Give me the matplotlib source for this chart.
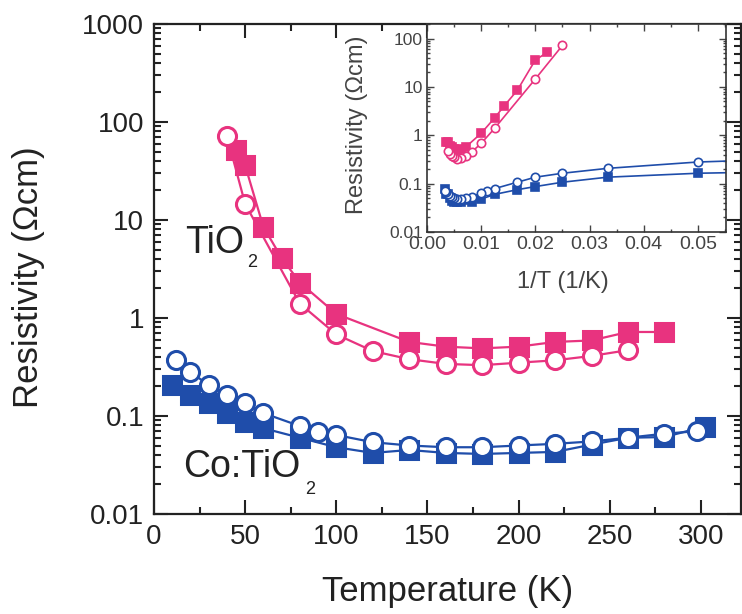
import numpy as np
import matplotlib
matplotlib.use("Agg")
from matplotlib import pyplot as plt
from matplotlib.ticker import LogLocator, MultipleLocator, NullFormatter

plt.rcParams['font.family'] = ['Liberation Sans', 'DejaVu Sans']

# TiO2 (pink)
tio2_sq_T = [45, 50, 60, 70, 80, 100, 140, 160, 180, 200, 220, 240, 260, 280]
tio2_sq_R = [52, 36, 8.5, 4.1, 2.3, 1.1, 0.57, 0.51, 0.49, 0.51, 0.57, 0.59, 0.72, 0.72]
tio2_ci_T = [40, 50, 80, 100, 120, 140, 160, 180, 200, 220, 240, 260]
tio2_ci_R = [72, 14.6, 1.4, 0.68, 0.46, 0.38, 0.34, 0.33, 0.35, 0.37, 0.41, 0.47]

# Co:TiO2 (blue)
co_sq_T = [10, 20, 30, 40, 50, 60, 80, 100, 120, 140, 160, 180, 200, 220, 240, 260, 280, 302]
co_sq_R = [0.207, 0.164, 0.136, 0.107, 0.087, 0.075, 0.060, 0.048, 0.042, 0.045, 0.042,
           0.041, 0.042, 0.043, 0.051, 0.060, 0.061, 0.078]
co_ci_T = [12, 20, 30, 40, 50, 60, 80, 90, 100, 120, 140, 160, 180, 200, 220, 240, 260, 280, 298]
co_ci_R = [0.37, 0.28, 0.207, 0.164, 0.136, 0.107, 0.079, 0.069, 0.064, 0.054, 0.050, 0.048,
           0.048, 0.050, 0.052, 0.055, 0.060, 0.066, 0.070]

pink = '#E8337F'
blue = '#1F4DAA'
ink = '#222222'

fig = plt.figure(figsize=(7.42, 6.14), dpi=100)
ax = fig.add_axes([154/742, 1 - 514/614, 587/742, 490/614])

ax.plot(tio2_sq_T, tio2_sq_R, '-s', color=pink, ms=13, mew=2.2, lw=1.6, mfc=pink)
ax.plot(tio2_ci_T, tio2_ci_R, '-o', color=pink, ms=13, mew=2.2, lw=1.6, mfc='white')
ax.plot(co_sq_T, co_sq_R, '-s', color=blue, ms=13, mew=2.2, lw=1.6, mfc=blue)
ax.plot(co_ci_T, co_ci_R, '-o', color=blue, ms=13, mew=2.2, lw=1.6, mfc='white')

ax.set_yscale('log')
ax.set_xlim(0, 322)
ax.set_ylim(0.01, 1000)
ax.set_yticks([0.01, 0.1, 1, 10, 100, 1000])
ax.set_yticklabels(['0.01', '0.1', '1', '10', '100', '1000'])
ax.yaxis.set_minor_locator(LogLocator(base=10, subs=np.arange(2, 10)))
ax.yaxis.set_minor_formatter(NullFormatter())
ax.set_xticks([0, 50, 100, 150, 200, 250, 300])
ax.xaxis.set_minor_locator(MultipleLocator(25))
ax.tick_params(which='both', direction='in', top=True, right=True, width=1.5, labelsize=20, colors=ink)
ax.tick_params(which='major', length=10)
ax.tick_params(axis='x', which='major', pad=7)
ax.tick_params(axis='y', which='major', pad=7)
ax.tick_params(which='minor', length=5)
for s in ax.spines.values():
    s.set_linewidth(1.6)
    s.set_color(ink)
ax.set_xlabel('Temperature (K)', fontsize=25, color=ink)
ax.set_ylabel('Resistivity (Ωcm)', fontsize=25, color=ink)
ax.xaxis.label.set_va('baseline')
ax.xaxis.set_label_coords(0.50, -0.178)
ax.yaxis.set_label_coords(-0.186, 0.484)

# sample names, subscript sits below the baseline as in the figure
ax.text(0.0528, 0.533, 'TiO', transform=ax.transAxes, fontsize=27, color=ink, va='baseline')
ax.text(0.158, 0.504, '2', transform=ax.transAxes, fontsize=13, color=ink, va='baseline')
ax.text(0.0494, 0.0755, 'Co:TiO', transform=ax.transAxes, fontsize=27, color=ink, va='baseline')
ax.text(0.257, 0.041, '2', transform=ax.transAxes, fontsize=13, color=ink, va='baseline')

# inset: same data vs 1/T
ins = fig.add_axes([427/742, 1 - 232/614, 299/742, 208/614])
ins.plot(1/np.array(tio2_sq_T), tio2_sq_R, '-s', color=pink, ms=6, mew=1.2, lw=1.2, mfc=pink)
ins.plot(1/np.array(tio2_ci_T), tio2_ci_R, '-o', color=pink, ms=6, mew=1.2, lw=1.2, mfc='white')
ins.plot(1/np.array(co_sq_T), co_sq_R, '-s', color=blue, ms=6, mew=1.2, lw=1.2, mfc=blue)
ins.plot(1/np.array(co_ci_T), co_ci_R, '-o', color=blue, ms=6, mew=1.2, lw=1.2, mfc='white')
ins.set_yscale('log')
ins.set_xlim(0, 0.0552)
ins.set_ylim(0.01, 200)
ins.set_yticks([0.01, 0.1, 1, 10, 100])
ins.set_yticklabels(['0.01', '0.1', '1', '10', '100'])
ins.yaxis.set_minor_locator(LogLocator(base=10, subs=np.arange(2, 10)))
ins.yaxis.set_minor_formatter(NullFormatter())
ins.set_xticks([0, 0.01, 0.02, 0.03, 0.04, 0.05])
ins.set_xticklabels(['0.00', '0.01', '0.02', '0.03', '0.04', '0.05'])
ins.xaxis.set_minor_locator(MultipleLocator(0.005))
ins.tick_params(which='both', direction='in', top=True, right=True, width=1, colors='#444444')
ins.tick_params(axis='x', labelsize=14)
ins.tick_params(axis='y', labelsize=12.5)
ins.tick_params(which='major', length=5, pad=3)
ins.tick_params(which='minor', length=2.5)
for s in ins.spines.values():
    s.set_linewidth(1.2)
    s.set_color('#333333')
ins.set_xlabel('1/T (1/K)', fontsize=17, color='#444444')
ins.set_ylabel('Resistivity (Ωcm)', fontsize=17, color='#444444')
ins.xaxis.label.set_va('baseline')
ins.xaxis.set_label_coords(0.455, -0.27)
ins.yaxis.set_label_coords(-0.197, 0.514)

fig.savefig('out.png', dpi=100)
